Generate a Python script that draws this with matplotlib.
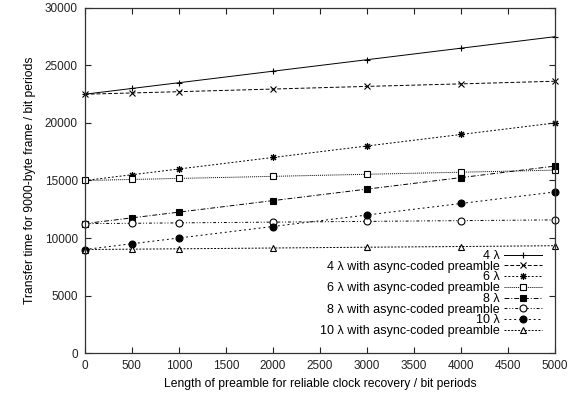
import numpy as np
import matplotlib
matplotlib.use('Agg')
import matplotlib.pyplot as plt

plt.rcParams['font.family'] = ['Liberation Sans', 'DejaVu Sans']
plt.rcParams['font.size'] = 8.7

# Preamble length (bit periods)
preamble = [0, 500, 1000, 2000, 3000, 4000, 5000]

# Transfer time for a 9000-byte frame (bit periods)
t_4 = [22500, 23000, 23500, 24500, 25500, 26500, 27500]
t_4_async = [22500, 22610, 22720, 22950, 23180, 23400, 23630]
t_6 = [15000, 15500, 16000, 17000, 18000, 19000, 20000]
t_6_async = [15000, 15090, 15180, 15360, 15540, 15720, 15900]
t_8 = [11250, 11750, 12250, 13250, 14250, 15250, 16250]
t_8_async = [11250, 11280, 11315, 11380, 11445, 11510, 11575]
t_10 = [9000, 9500, 10000, 11000, 12000, 13000, 14000]
t_10_async = [9000, 9030, 9060, 9130, 9200, 9260, 9330]

labels = ['4 λ', '4 λ with async-coded preamble',
          '6 λ', '6 λ with async-coded preamble',
          '8 λ', '8 λ with async-coded preamble',
          '10 λ', '10 λ with async-coded preamble']

series = [t_4, t_4_async, t_6, t_6_async, t_8, t_8_async, t_10, t_10_async]

# (linestyle, marker, filled)
styles = [
    ('-', '+', True),
    ((0, (4, 2)), 'x', True),
    ((0, (2, 2)), (8, 2, 0), True),
    ((0, (1, 1)), 's', False),
    ((0, (5, 2, 1, 2)), 's', True),
    ((0, (3, 2, 1, 2, 1, 2)), 'o', False),
    ((0, (2, 3)), 'o', True),
    ((0, (2, 1.5)), '^', False),
]

fig = plt.figure(figsize=(5.81, 3.98), dpi=100)
ax = fig.add_axes([0.146, 0.113, 0.809, 0.867])

for y, lab, (ls, mk, filled) in zip(series, labels, styles):
    ax.plot(preamble, y, color='black', linestyle=ls, linewidth=0.7,
            marker=mk, markersize=5,
            markerfacecolor='black' if filled else 'white',
            markeredgecolor='black', markeredgewidth=0.8,
            label=lab, clip_on=False)

ax.set_xlim(0, 5000)
ax.set_ylim(0, 30000)
ax.set_xticks(np.arange(0, 5001, 500))
ax.set_yticks(np.arange(0, 30001, 5000))
ax.tick_params(direction='in', length=4, width=0.8, top=True, right=True,
               labelsize=8.5, colors='#222222', pad=5)
for s in ax.spines.values():
    s.set_linewidth(0.9)
    s.set_color('#333333')

ax.set_xlabel('Length of preamble for reliable clock recovery / bit periods',
              fontsize=8.7, labelpad=4)
ax.set_ylabel('Transfer time for 9000-byte frame / bit periods',
              fontsize=8.7, labelpad=6)

leg = ax.legend(loc='lower right', bbox_to_anchor=(0.972, 0.046),
                frameon=False, markerfirst=False, borderpad=0,
                borderaxespad=0, handlelength=3, handletextpad=0.35,
                labelspacing=-0.1, fontsize=9)
for col in leg._legend_handle_box.get_children():
    col.align = 'right'

fig.savefig('out.png', dpi=100)
